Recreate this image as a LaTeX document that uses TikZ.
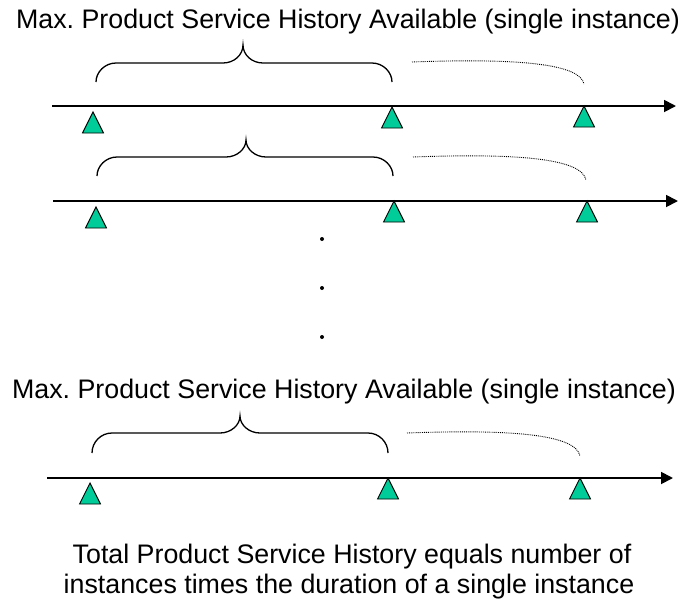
\documentclass[tikz,border=0pt]{standalone}
\usepackage{fontspec}
\setmainfont{Liberation Sans}
\usetikzlibrary{arrows.meta}
\frenchspacing

\definecolor{markgreen}{RGB}{0,204,153}

\tikzset{
  axisline/.style={line width=1.8pt, -{Triangle[length=12pt,width=12pt]}},
  bracepath/.style={line width=1.3pt},
  extension/.style={line width=0.9pt, densely dotted},
  marker/.style={draw=black, line width=0.9pt, fill=markgreen, line join=miter},
  label/.style={font=\fontsize{26.8}{30}\selectfont, inner sep=0pt, anchor=base},
  ellipsisdot/.style={fill=black}
}

% curly brace from (#1,#4) to (#3,#4), flat at #5, tip at (#2,#6)
\newcommand\spanbrace[6]{%
  \draw[bracepath] (#1,#4) .. controls (#1,#5+9) and (#1+9,#5) .. (#1+20,#5)
    -- (#2-20,#5) .. controls (#2-9,#5) and (#2,#5-8) .. (#2,#6)
    .. controls (#2,#5-8) and (#2+9,#5) .. (#2+20,#5)
    -- (#3-20,#5) .. controls (#3-9,#5) and (#3,#5+9) .. (#3,#4);}

% green triangle with its apex at the given point
\newcommand\placemark[1]{%
  \draw[marker] (#1) -- ++(-10.5,21) -- ++(21,0) -- cycle;}

\begin{document}
\begin{tikzpicture}[x=1pt,y=-1pt]
\useasboundingbox (0,0) rectangle (689,600);

% ---- first instance ----
\node[label] (title1) at (348,28) {Max. Product Service History Available (single instance)};
\coordinate (a1s) at (52,106);
\coordinate (a1e) at (676,106);
\draw[axisline] (a1s) -- (a1e);
\spanbrace{96}{243}{392}{82}{63}{45}
\coordinate (d1s) at (412,62);
\coordinate (d1e) at (584,84);
\draw[extension] (d1s) .. controls (520,58) and (580,64) .. (d1e);
\coordinate (m1a) at (93,112);
\coordinate (m1b) at (392,107);
\coordinate (m1c) at (584,106);
\placemark{m1a}\placemark{m1b}\placemark{m1c}

% ---- second instance ----
\coordinate (a2s) at (53,201);
\coordinate (a2e) at (678,201);
\draw[axisline] (a2s) -- (a2e);
\spanbrace{97}{246}{393}{176}{157}{140}
\coordinate (d2s) at (413,157);
\coordinate (d2e) at (586,180);
\draw[extension] (d2s) .. controls (521,153) and (582,159) .. (d2e);
\coordinate (m2a) at (96,207);
\coordinate (m2b) at (394,201);
\coordinate (m2c) at (587,201);
\placemark{m2a}\placemark{m2b}\placemark{m2c}

% ---- vertical ellipsis ----
\fill[ellipsisdot] (322,239) circle (2);
\fill[ellipsisdot] (322,288) circle (2);
\fill[ellipsisdot] (322,337) circle (2);

% ---- last instance ----
\node[label] (title2) at (344,398) {Max. Product Service History Available (single instance)};
\coordinate (a3s) at (47,478);
\coordinate (a3e) at (673,478);
\draw[axisline] (a3s) -- (a3e);
\spanbrace{92}{240}{388}{453}{433}{416}
\coordinate (d3s) at (407,433);
\coordinate (d3e) at (580,456);
\draw[extension] (d3s) .. controls (515,429) and (576,435) .. (d3e);
\coordinate (m3a) at (90,483);
\coordinate (m3b) at (388,478);
\coordinate (m3c) at (580,478);
\placemark{m3a}\placemark{m3b}\placemark{m3c}

% ---- summary ----
\node[label] (foot1) at (352,563) {Total Product Service History equals number of};
\node[label] (foot2) at (349,593) {instances times the duration of a single instance};
\end{tikzpicture}
\end{document}
